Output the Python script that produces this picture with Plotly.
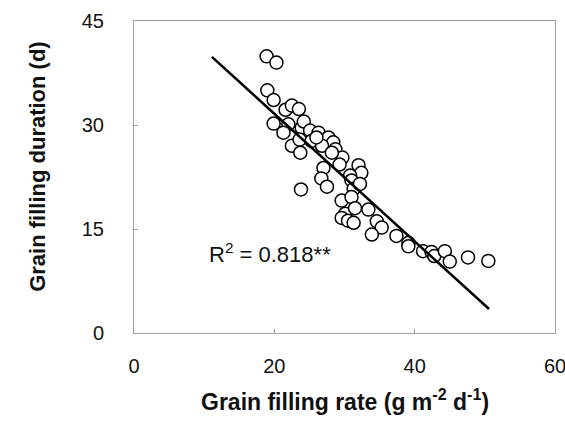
import plotly.graph_objects as go

# Grain filling rate (g m-2 d-1)
rate = [18.9, 20.3, 19.0, 19.9, 19.9, 21.6, 22.5, 23.5, 22.0, 21.3, 22.5, 23.7,
        23.9, 23.6, 24.2, 25.1, 25.3, 26.3, 27.7, 28.4, 28.7, 29.7, 26.8, 26.0,
        32.0, 32.4, 30.8, 31.0, 27.0, 26.7, 27.5, 23.8, 31.3, 32.2, 29.6, 31.0,
        30.1, 29.6, 31.5, 30.5, 31.3, 33.4, 34.6, 35.3, 33.9, 37.4, 39.1, 39.1,
        41.2, 42.4, 42.8, 44.3, 45.0, 47.6, 50.5, 28.2, 29.3]
# Grain filling duration (d)
duration = [39.9, 39.0, 35.0, 33.6, 30.2, 32.2, 32.8, 32.3, 30.1, 28.9, 27.0, 26.0,
            29.6, 27.9, 30.5, 29.2, 27.7, 28.9, 28.2, 27.5, 26.5, 25.3, 27.0, 28.2,
            24.2, 23.1, 22.7, 22.0, 23.8, 22.3, 21.1, 20.7, 20.8, 21.5, 19.1, 19.6,
            17.2, 16.6, 18.0, 16.2, 15.9, 17.8, 16.1, 15.2, 14.2, 14.0, 13.0, 12.5,
            11.8, 11.7, 11.1, 11.8, 10.3, 10.9, 10.4, 26.0, 24.3]

# Regression line
fit_intercept = 50.04
fit_slope = -0.9206
fit_x = [11.1, 50.6]
fit_y = [fit_intercept + fit_slope * v for v in fit_x]

x_ticks = [0, 20, 40, 60]
y_ticks = [0, 15, 30, 45]
r2_label = "R<sup>2</sup> = 0.818**"

FONT = "Liberation Sans, Arial, sans-serif"

fig = go.Figure()
fig.add_trace(go.Scatter(
    x=rate, y=duration, mode="markers",
    marker=dict(symbol="circle", size=13, color="white",
                line=dict(color="black", width=1.5)),
    showlegend=False, hoverinfo="skip"))
fig.add_trace(go.Scatter(
    x=fit_x, y=fit_y, mode="lines",
    line=dict(color="black", width=2.5),
    showlegend=False, hoverinfo="skip"))

fig.add_annotation(x=19.4, y=11.5, xref="x", yref="y", text=r2_label,
                   showarrow=False, font=dict(family=FONT, size=22, color="#111"))
fig.add_annotation(x=0.5, y=-0.216, xref="paper", yref="paper",
                   text="Grain filling rate (g m<sup>-2</sup> d<sup>-1</sup>)",
                   showarrow=False, yanchor="middle",
                   font=dict(family=FONT, size=23, color="#111", weight="bold"))
fig.add_annotation(x=-0.231, y=0.535, xref="paper", yref="paper",
                   text="Grain filling duration (d)", textangle=-90,
                   showarrow=False, xanchor="center", yanchor="middle",
                   font=dict(family=FONT, size=22, color="#111", weight="bold"))

axis_common = dict(showgrid=False, zeroline=False, showline=True, mirror=True,
                   linecolor="#a0a0a0", linewidth=1, ticks="inside", ticklen=4,
                   tickcolor="#a0a0a0", ticklabeloverflow="allow", automargin=False,
                   tickfont=dict(family=FONT, size=20, color="#111"))
fig.update_xaxes(range=[0, 60], tickvals=x_ticks, ticklabelstandoff=15, **axis_common)
fig.update_yaxes(range=[0, 45], tickvals=y_ticks, ticklabelstandoff=25, **axis_common)

fig.update_layout(
    width=565, height=432,
    margin=dict(l=134, r=10, t=21, b=99),
    paper_bgcolor="white", plot_bgcolor="white",
    font=dict(family=FONT),
)
fig.write_html("out.html")
